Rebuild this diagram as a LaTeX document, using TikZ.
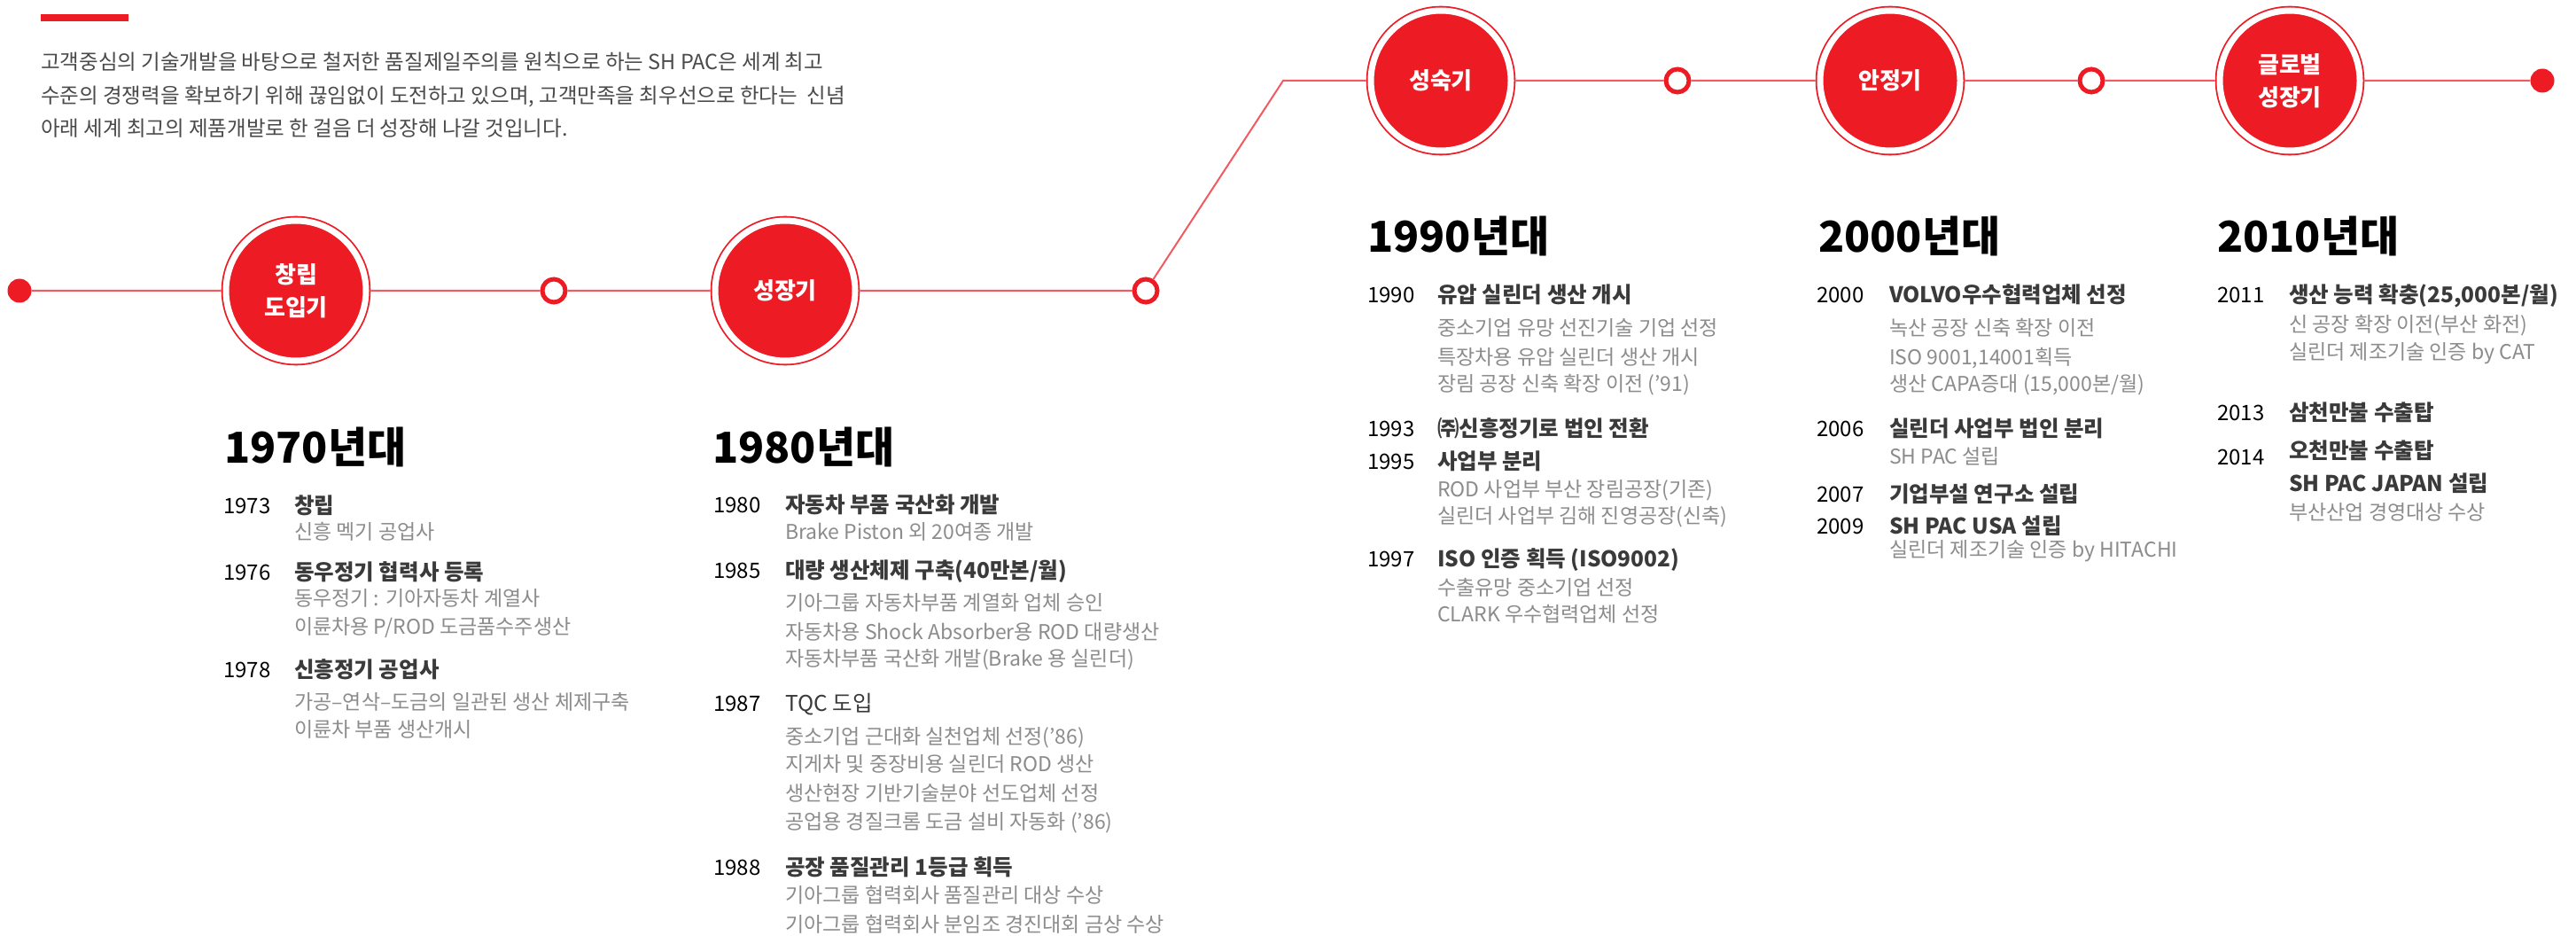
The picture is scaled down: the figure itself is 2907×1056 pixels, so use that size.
\documentclass[tikz,border=0pt]{standalone}
\usepackage{fontspec}
\setmainfont{Noto Sans CJK KR}
\definecolor{brand}{HTML}{ED1C24}
\definecolor{lineclr}{HTML}{F05A60}
\definecolor{introgray}{HTML}{4A4A4A}
\definecolor{titlegray}{HTML}{3A3A3A}
\definecolor{descgray}{HTML}{8C8C8C}
\begin{document}
\begin{tikzpicture}[x=1pt,y=-1pt,
  bigc/.style={circle, fill=brand, draw=brand, line width=1.8pt, double=white, double distance=7pt,
    minimum size=158pt, inner sep=0pt, outer sep=5.3pt, text=white, align=center,
    font=\fontsize{26}{37}\selectfont\bfseries},
  hollow/.style={circle, draw=brand, fill=white, line width=5pt, minimum size=26pt, inner sep=0pt},
  enddot/.style={circle, fill=brand, minimum size=27pt, inner sep=0pt},
  tline/.style={draw=lineclr, line width=2pt},
  intro/.style={anchor=base west, inner sep=0pt, text=introgray, font=\fontsize{23.5}{28}\selectfont},
  decade/.style={anchor=base west, inner sep=0pt, text=black, font=\fontsize{48}{56}\selectfont\bfseries},
  yr/.style={anchor=base west, inner sep=0pt, text=black, font=\fontsize{24}{28}\selectfont},
  ttl/.style={anchor=base west, inner sep=0pt, text=titlegray, font=\fontsize{24.5}{28}\selectfont\bfseries},
  ttlr/.style={anchor=base west, inner sep=0pt, text=titlegray, font=\fontsize{24.5}{28}\selectfont},
  dsc/.style={anchor=base west, inner sep=0pt, text=descgray, font=\fontsize{23}{26}\selectfont}
]
\fill[white] (0,0) rectangle (2907,1056);
\useasboundingbox (0,0) rectangle (2907,1056);

% header
\node[fill=brand, minimum width=99pt, minimum height=8pt, inner sep=0pt, anchor=north west] (bar) at (46,16) {};
\node[intro] (in1) at (46,79) {고객중심의 기술개발을 바탕으로 철저한 품질제일주의를 원칙으로 하는 SH PAC은 세계 최고};
\node[intro] (in2) at (46,117) {수준의 경쟁력을 확보하기 위해 끊임없이 도전하고 있으며, 고객만족을 최우선으로 한다는 \ 신념};
\node[intro] (in3) at (46,154) {아래 세계 최고의 제품개발로 한 걸음 더 성장해 나갈 것입니다.};

% timeline
\node[enddot] (d0) at (22,328) {};
\node[bigc] (p1) at (334,328) {창립\\도입기};
\node[hollow] (h1) at (625,328) {};
\node[bigc] (p2) at (886,328) {성장기};
\node[hollow] (h2) at (1293,328) {};
\coordinate (bend) at (1448,91);
\node[bigc] (p3) at (1626,91) {성숙기};
\node[hollow] (h3) at (1893,91) {};
\node[bigc] (p4) at (2133,91) {안정기};
\node[hollow] (h4) at (2360,91) {};
\node[bigc] (p5) at (2584,91) {글로벌\\성장기};
\node[enddot] (d1) at (2869,91) {};
\draw[tline] (d0) -- (p1) -- (h1) -- (p2) -- (h2) -- (bend) -- (p3) -- (h3) -- (p4) -- (h4) -- (p5) -- (d1);

% 1970s
\node[decade] (h70) at (253,522) {1970년대};
\node[yr] (y73) at (252,579) {1973};
\node[ttl] (t73) at (332,579) {창립};
\node[dsc] (s73a) at (332,608) {신흥 멕기 공업사};
\node[yr] (y76) at (252,654) {1976};
\node[ttl] (t76) at (332,654) {동우정기 협력사 등록};
\node[dsc] (s76a) at (332,683) {동우정기 : 기아자동차 계열사};
\node[dsc] (s76b) at (332,715) {이륜차용 P/ROD 도금품수주생산};
\node[yr] (y78) at (252,764) {1978};
\node[ttl] (t78) at (332,764) {신흥정기 공업사};
\node[dsc] (s78a) at (332,800) {가공–연삭–도금의 일관된 생산 체제구축};
\node[dsc] (s78b) at (332,831) {이륜차 부품 생산개시};

% 1980s
\node[decade] (h80) at (804,522) {1980년대};
\node[yr] (y80) at (805,578) {1980};
\node[ttl] (t80) at (886,578) {자동차 부품 국산화 개발};
\node[dsc] (s80a) at (886,608) {Brake Piston 외 20여종 개발};
\node[yr] (y85) at (805,652) {1985};
\node[ttl] (t85) at (886,652) {대량 생산체제 구축(40만본/월)};
\node[dsc] (s85a) at (886,688) {기아그룹 자동차부품 계열화 업체 승인};
\node[dsc] (s85b) at (886,721) {자동차용 Shock Absorber용 ROD 대량생산};
\node[dsc] (s85c) at (886,751) {자동차부품 국산화 개발(Brake 용 실린더)};
\node[yr] (y87) at (805,802) {1987};
\node[ttlr] (t87) at (886,802) {TQC 도입};
\node[dsc] (s87a) at (886,839) {중소기업 근대화 실천업체 선정('86)};
\node[dsc] (s87b) at (886,870) {지게차 및 중장비용 실린더 ROD 생산};
\node[dsc] (s87c) at (886,903) {생산현장 기반기술분야 선도업체 선정};
\node[dsc] (s87d) at (886,935) {공업용 경질크롬 도금 설비 자동화 ('86)};
\node[yr] (y88) at (805,987) {1988};
\node[ttl] (t88) at (886,987) {공장 품질관리 1등급 획득};
\node[dsc] (s88a) at (886,1018) {기아그룹 협력회사 품질관리 대상 수상};
\node[dsc] (s88b) at (886,1051) {기아그룹 협력회사 분임조 경진대회 금상 수상};

% 1990s
\node[decade] (h90) at (1543,285) {1990년대};
\node[yr] (y90) at (1543,342) {1990};
\node[ttl] (t90) at (1622,342) {유압 실린더 생산 개시};
\node[dsc] (s90a) at (1622,378) {중소기업 유망 선진기술 기업 선정};
\node[dsc] (s90b) at (1622,411) {특장차용 유압 실린더 생산 개시};
\node[dsc] (s90c) at (1622,441) {장림 공장 신축 확장 이전 ('91)};
\node[yr] (y93) at (1543,492) {1993};
\node[ttl] (t93) at (1622,492) {㈜신흥정기로 법인 전환};
\node[yr] (y95) at (1543,529) {1995};
\node[ttl] (t95) at (1622,529) {사업부 분리};
\node[dsc] (s95a) at (1622,560) {ROD 사업부 부산 장림공장(기존)};
\node[dsc] (s95b) at (1622,590) {실린더 사업부 김해 진영공장(신축)};
\node[yr] (y97) at (1543,639) {1997};
\node[ttl] (t97) at (1622,639) {ISO 인증 획득 (ISO9002)};
\node[dsc] (s97a) at (1622,671) {수출유망 중소기업 선정};
\node[dsc] (s97b) at (1622,701) {CLARK 우수협력업체 선정};

% 2000s
\node[decade] (h00) at (2052,285) {2000년대};
\node[yr] (y00) at (2050,342) {2000};
\node[ttl] (t00) at (2132,342) {VOLVO우수협력업체 선정};
\node[dsc] (s00a) at (2132,378) {녹산 공장 신축 확장 이전};
\node[dsc] (s00b) at (2132,411) {ISO 9001,14001획득};
\node[dsc] (s00c) at (2132,441) {생산 CAPA증대 (15,000본/월)};
\node[yr] (y06) at (2050,492) {2006};
\node[ttl] (t06) at (2132,492) {실린더 사업부 법인 분리};
\node[dsc] (s06a) at (2132,523) {SH PAC 설립};
\node[yr] (y07) at (2050,566) {2007};
\node[ttl] (t07) at (2132,566) {기업부설 연구소 설립};
\node[yr] (y09) at (2050,602) {2009};
\node[ttl] (t09) at (2132,602) {SH PAC USA 설립};
\node[dsc] (s09a) at (2132,628) {실린더 제조기술 인증 by HITACHI};

% 2010s
\node[decade] (h10) at (2502,285) {2010년대};
\node[yr] (y11) at (2502,342) {2011};
\node[ttl] (t11) at (2583,342) {생산 능력 확충(25,000본/월)};
\node[dsc] (s11a) at (2583,375) {신 공장 확장 이전(부산 화전)};
\node[dsc] (s11b) at (2583,405) {실린더 제조기술 인증 by CAT};
\node[yr] (y13) at (2502,474) {2013};
\node[ttl] (t13) at (2583,474) {삼천만불 수출탑};
\node[yr] (y14) at (2502,524) {2014};
\node[ttl] (t14) at (2583,517) {오천만불 수출탑};
\node[ttl] (t14b) at (2583,554) {SH PAC JAPAN 설립};
\node[dsc] (s14a) at (2583,586) {부산산업 경영대상 수상};
\end{tikzpicture}
\end{document}
